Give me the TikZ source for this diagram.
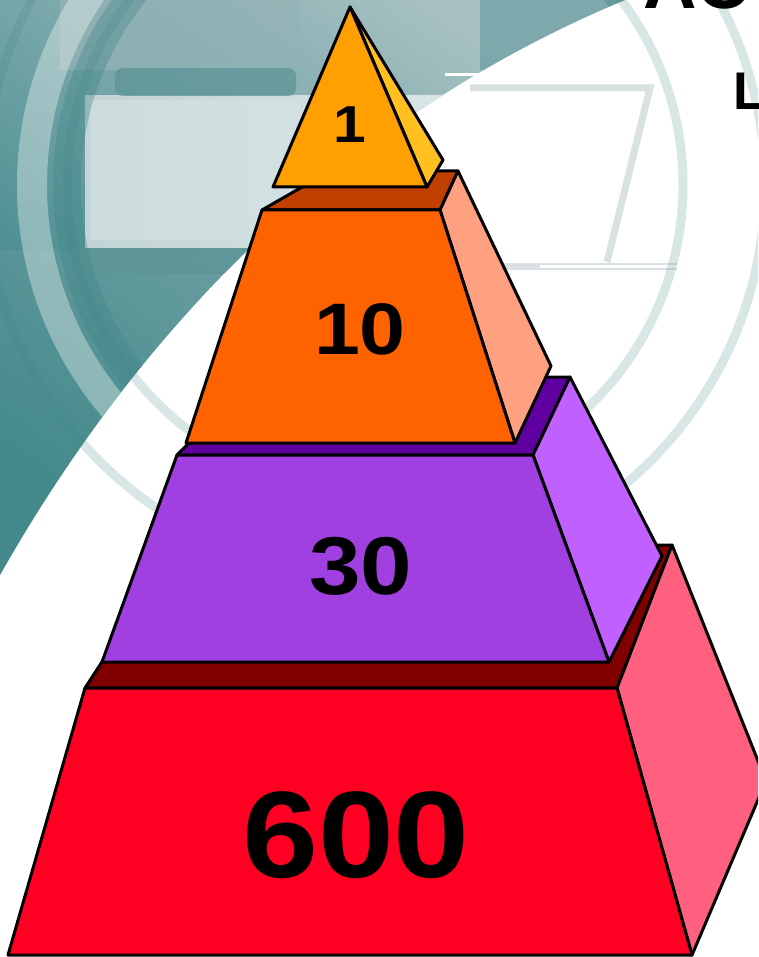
\documentclass[tikz,border=0pt]{standalone}
\usepackage{fontspec}
\setmainfont{Liberation Sans}
\definecolor{triF}{HTML}{FFA000}
\definecolor{triS}{HTML}{FFC020}
\definecolor{orL}{HTML}{C04000}
\definecolor{orF}{HTML}{FF6300}
\definecolor{orS}{HTML}{FFA080}
\definecolor{puL}{HTML}{6000A0}
\definecolor{puF}{HTML}{A040E0}
\definecolor{puS}{HTML}{C060FF}
\definecolor{reL}{HTML}{800000}
\definecolor{reF}{HTML}{FF0022}
\definecolor{reS}{HTML}{FF6080}
\definecolor{tealD}{HTML}{2F7F82}
\definecolor{tealM}{HTML}{6E9FA1}
\definecolor{tealL}{HTML}{A8C1C3}
\definecolor{tealG}{HTML}{94B3B6}
\definecolor{eLight}{HTML}{D6E4E5}
\definecolor{eDark}{HTML}{5E9598}
\definecolor{ringC}{HTML}{3F8486}
\definecolor{eLine}{HTML}{D9E1E2}
\begin{document}
\begin{tikzpicture}[x=1pt,y=-1pt,
  face/.style={draw=black,line width=3,line join=round},
  lbl/.style={inner sep=0,font=\bfseries},
  ringline/.style={draw=ringC,line width=9,opacity=0.2}]
\clip (0,0) rectangle (758,957);
\fill[white] (0,0) rectangle (758,957);
% faint logo outline in the white area
\draw[eLine,line width=7] (470,88) -- (650,88) -- (607,262);
\draw[eLine,line width=7] (498,267) -- (677,267);
\draw[white,line width=3] (540,267) -- (677,267);
% teal region
\begin{scope}
  \clip (0,0) -- (625,0) .. controls (360,110) and (150,310) .. (0,575) -- cycle;
  \shade[top color=tealL,bottom color=tealD,shading angle=-35] (0,0) rectangle (640,580);
  \fill[tealM,opacity=0.35] (0,250) rectangle (300,580);
  \fill[tealG,opacity=0.7] (60,0) rectangle (300,70);
  \shade[left color=tealL!70!white,right color=eLight!60!white] (85,96) rectangle (660,248);
  \fill[eDark,opacity=0.75,rounded corners=8] (115,68) rectangle (296,96);
  \fill[eDark,opacity=0.85] (78,248) rectangle (660,274);
  \fill[eLight,opacity=0.5] (90,100) rectangle (300,240);
  \draw[white,line width=30,opacity=0.35] (375,185) circle[radius=343];
  \draw[ringC,line width=28,opacity=0.35] (375,185) circle[radius=308];
  \fill[tealD,opacity=0.35] (480,0) rectangle (640,70);
\end{scope}
\draw[white,line width=3] (445,75) -- (487,75);
% concentric rings
\draw[ringline] (375,185) circle[radius=308];
\draw[ringline] (375,185) circle[radius=390];
% partial title text (cut off at the top edge)
\node[lbl,anchor=base west] (ttl) at (643,9) {\fontsize{74}{80}\selectfont AC};
\node[lbl,anchor=base west] (ttl2) at (733,110) {\fontsize{53}{60}\selectfont L};
% ---------- bottom tier (red) ----------
\coordinate (r1) at (85,688);  \coordinate (r2) at (617,688);
\coordinate (r3) at (692,955); \coordinate (r4) at (8,955);
\coordinate (r5) at (672,545); \coordinate (r6) at (178,545);
\coordinate (r7) at (766,781);
\path[face,fill=reL] (r1) -- (r2) -- (r5) -- (r6) -- cycle;
\path[face,fill=reS] (r2) -- (r5) -- (r7) -- (r3) -- cycle;
\path[face,fill=reF] (r1) -- (r2) -- (r3) -- (r4) -- cycle;
% ---------- third tier (purple) ----------
\coordinate (p1) at (177,455); \coordinate (p2) at (533,455);
\coordinate (p3) at (609,662); \coordinate (p4) at (102,662);
\coordinate (p5) at (570,377); \coordinate (p6) at (255,377);
\coordinate (p7) at (662,556);
\path[face,fill=puL] (p1) -- (p2) -- (p5) -- (p6) -- cycle;
\path[face,fill=puS] (p2) -- (p5) -- (p7) -- (p3) -- cycle;
\path[face,fill=puF] (p1) -- (p2) -- (p3) -- (p4) -- cycle;
% ---------- second tier (orange) ----------
\coordinate (o1) at (262,210); \coordinate (o2) at (440,210);
\coordinate (o3) at (515,443); \coordinate (o4) at (186,443);
\coordinate (o5) at (458,171); \coordinate (o6) at (330,171);
\coordinate (o7) at (551,366);
\path[face,fill=orL] (o1) -- (o2) -- (o5) -- (o6) -- cycle;
\path[face,fill=orS] (o2) -- (o5) -- (o7) -- (o3) -- cycle;
\path[face,fill=orF] (o1) -- (o2) -- (o3) -- (o4) -- cycle;
% ---------- top (triangle) ----------
\coordinate (t0) at (350,7);  \coordinate (t1) at (273,187);
\coordinate (t2) at (427,187); \coordinate (t3) at (443,160);
\path[face,fill=triS] (t0) -- (t3) -- (t2) -- cycle;
\path[face,fill=triF] (t0) -- (t2) -- (t1) -- cycle;
% ---------- labels ----------
\node[lbl] (n1) at (350,125) {\fontsize{52}{60}\selectfont\scalebox{1.13}[1]{1}};
\node[lbl] (n10) at (360,329) {\fontsize{73}{80}\selectfont\scalebox{1.13}[1]{10}};
\node[lbl] (n30) at (361,566) {\fontsize{82}{90}\selectfont\scalebox{1.13}[1]{30}};
\node[lbl] (n600) at (356,835) {\fontsize{123}{130}\selectfont\scalebox{1.11}[1]{600}};
\end{tikzpicture}
\end{document}
